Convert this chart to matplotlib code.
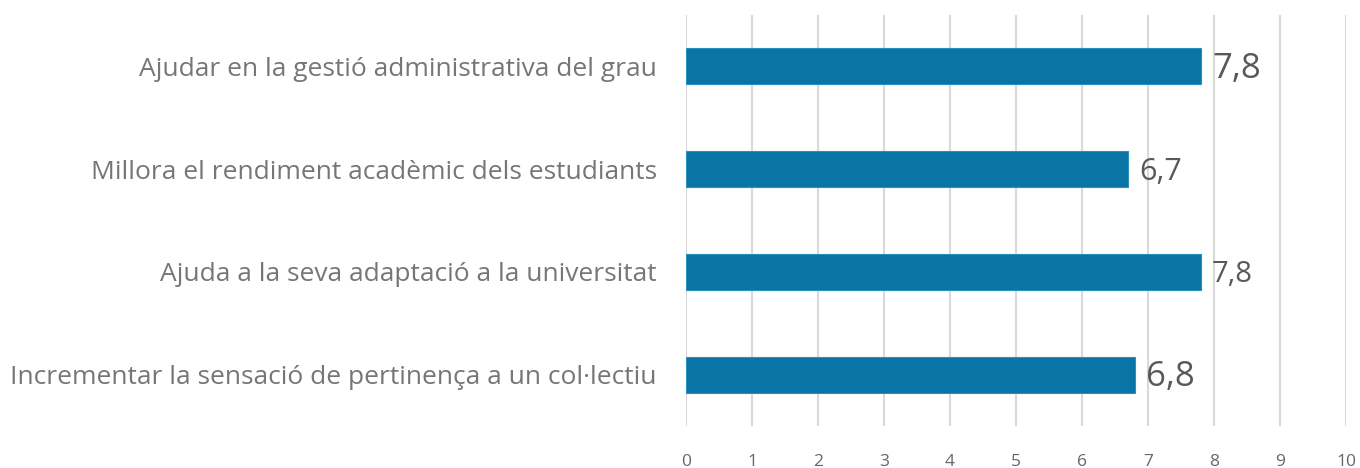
import matplotlib
matplotlib.use("Agg")
import matplotlib.pyplot as plt

categories = [
    "Ajudar en la gestió administrativa del grau",
    "Millora el rendiment acadèmic dels estudiants",
    "Ajuda a la seva adaptació a la universitat",
    "Incrementar la sensació de pertinença a un col·lectiu",
]
values = [7.8, 6.7, 7.8, 6.8]
value_labels = ["7,8", "6,7", "7,8", "6,8"]
label_sizes = [25, 22, 21, 25]
xticks = list(range(0, 11))

plt.rcParams['font.family'] = ['Open Sans', 'DejaVu Sans']

fig = plt.figure(figsize=(13.6, 4.68), dpi=100)
ax = fig.add_axes([0.5044, 0.0897, 0.9897 - 0.5044, 0.968 - 0.0897])

ypos = list(range(len(categories)))
ax.barh(ypos, values, height=0.35, color="#0a74a6", edgecolor="#2a8fc0", linewidth=0.8, zorder=3)
ax.set_ylim(len(categories) - 0.5, -0.5)
ax.set_xlim(0, 10)
ax.set_xticks(xticks)
ax.set_xticklabels([str(t) for t in xticks], color="#666666", fontsize=12.5)
ax.set_yticks(ypos)
ax.set_yticklabels(categories, color="#767676", fontsize=19)
ax.tick_params(axis='y', length=0, pad=21)
ax.tick_params(axis='x', length=0, pad=20)
ax.grid(axis='x', color="#d9d9d9", linewidth=1.5, zorder=0)
for s in ax.spines.values():
    s.set_visible(False)

for y, v, lab, fs in zip(ypos, values, value_labels, label_sizes):
    ax.annotate(lab, (v, y), xytext=(8, -2), textcoords="offset points",
                ha="left", va="center", fontsize=fs, color="#595959")

fig.savefig("out.png", dpi=100)
